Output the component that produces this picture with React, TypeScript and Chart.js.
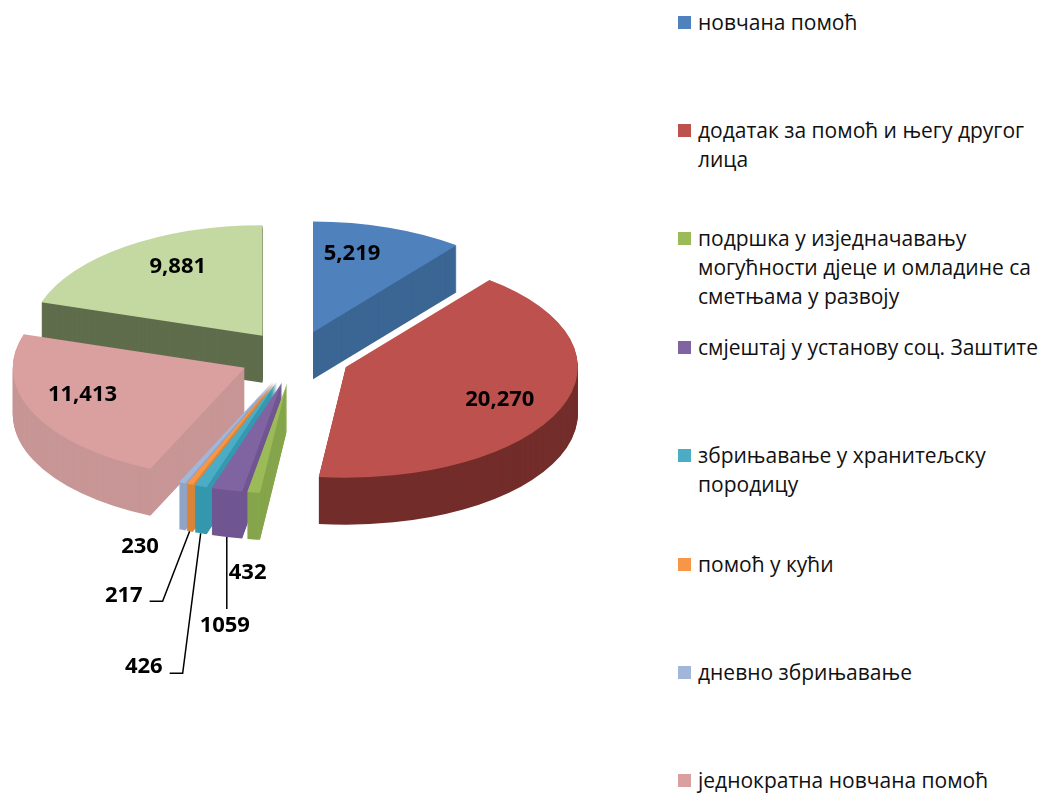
import { useEffect, useRef } from "react";
import { Chart, registerables } from "chart.js";

Chart.register(...registerables);

// ---------- data ----------
const CATEGORIES: string[][] = [
  ["новчана помоћ"],
  ["додатак за помоћ и његу другог", "лица"],
  ["подршка у изједначавању", "могућности дјеце и омладине са", "сметњама у развоју"],
  ["смјештај у установу соц. Заштите"],
  ["збрињавање у хранитељску", "породицу"],
  ["помоћ у кући"],
  ["дневно збрињавање"],
  ["једнократна новчана помоћ"],
  [""],
];
const VALUES = [5219, 20270, 432, 1059, 426, 217, 230, 11413, 9881];
const PLAIN_FORMAT = [false, false, false, true, false, false, false, false, false];
const LEGEND_ITEMS = 8;

// ---------- styles ----------
const COLORS = ["#4F81BD", "#BD514D", "#9BBB59", "#8064A2", "#4BACC6", "#F79646", "#A2B6D9", "#DAA0A0", "#C4D8A1"];
const SIDE_COLORS = ["#3B6694", "#732D2A", "#86A54C", "#705692", "#3598AF", "#DA8439", "#8FA4C8", "#C89696", "#5F6D4C"];
const TILT = 0.477;
const DEPTH = 47;
const EXPLODE = 55;

type LabelSpec =
  | { mode: "in"; r: number; da: number }
  | { mode: "out"; text: [number, number]; align: CanvasTextAlign; line: [number, number][] };

const LABEL_SPECS: LabelSpec[] = [
  { mode: "in", r: 0.73, da: -5.8 },
  { mode: "in", r: 0.726, da: 1.4 },
  { mode: "out", text: [-6, 33], align: "center", line: [] },
  { mode: "out", text: [-2, 89], align: "center", line: [[0, 0], [0, 72]] },
  { mode: "out", text: [-38, 133], align: "right", line: [[0, 0], [-18, 140], [-31, 140]] },
  { mode: "out", text: [-47, 64], align: "right", line: [[0, 0], [-27, 70], [-40, 70]] },
  { mode: "out", text: [-42, 17], align: "center", line: [] },
  { mode: "in", r: 0.74, da: 5.2 },
  { mode: "in", r: 0.72, da: 5.7 },
];

const fmt = (v: number, i: number) => (PLAIN_FORMAT[i] ? String(v) : v.toLocaleString("en-US"));

function paintArc(ctx: CanvasRenderingContext2D, arc: any, color: string, ex: number, ey: number, shift: number) {
  const cy = arc.y;
  ctx.save();
  ctx.translate(0, cy + shift);
  ctx.scale(1, TILT);
  ctx.translate(ex, ey - cy);
  const p = Object.create(arc);
  p.options = { ...arc.options, backgroundColor: color, borderWidth: 0, offset: 0, spacing: 0 };
  p.draw(ctx);
  ctx.restore();
}

const pseudo3d = {
  id: "pseudo3d",
  beforeDatasetsDraw(chart: any) {
    const ctx: CanvasRenderingContext2D = chart.ctx;
    const meta = chart.getDatasetMeta(0);
    const items = meta.data.map((arc: any, i: number) => ({ arc, i, mid: (arc.startAngle + arc.endAngle) / 2 }));
    items.sort((a: any, b: any) => Math.sin(a.mid) - Math.sin(b.mid));
    for (const { arc, i, mid } of items) {
      const ex = EXPLODE * Math.cos(mid);
      const ey = EXPLODE * Math.sin(mid);
      for (let s = DEPTH; s >= 1; s--) paintArc(ctx, arc, SIDE_COLORS[i], ex, ey, s);
      paintArc(ctx, arc, COLORS[i], ex, ey, 0);
    }
    return false;
  },
  afterDraw(chart: any) {
    const ctx: CanvasRenderingContext2D = chart.ctx;
    const meta = chart.getDatasetMeta(0);
    ctx.save();
    ctx.font = 'bold 22px "Open Sans"';
    ctx.fillStyle = "#000";
    ctx.strokeStyle = "#000";
    ctx.lineWidth = 1.5;
    ctx.textBaseline = "middle";
    meta.data.forEach((arc: any, i: number) => {
      const mid = (arc.startAngle + arc.endAngle) / 2;
      const ex = EXPLODE * Math.cos(mid);
      const ey = EXPLODE * Math.sin(mid);
      const spec = LABEL_SPECS[i];
      const text = fmt(VALUES[i], i);
      if (spec.mode === "in") {
        const r = arc.outerRadius * spec.r;
        const a = mid + (spec.da * Math.PI) / 180;
        const x = arc.x + ex + r * Math.cos(a);
        const y = arc.y + TILT * (ey + r * Math.sin(a));
        ctx.textAlign = "center";
        ctx.fillText(text, x, y);
      } else {
        const r = arc.outerRadius;
        const ax = arc.x + ex + r * Math.cos(mid);
        const ay = arc.y + TILT * (ey + r * Math.sin(mid)) + DEPTH;
        if (spec.line.length) {
          ctx.beginPath();
          spec.line.forEach(([dx, dy], k) => {
            if (k === 0) ctx.moveTo(ax + dx, ay + dy);
            else ctx.lineTo(ax + dx, ay + dy);
          });
          ctx.stroke();
        }
        ctx.textAlign = spec.align;
        ctx.fillText(text, ax + spec.text[0], ay + spec.text[1]);
      }
    });
    ctx.restore();
  },
};

export default function App() {
  const ref = useRef<HTMLCanvasElement | null>(null);
  useEffect(() => {
    if (!ref.current) return;
    const chart = new Chart(ref.current, {
      type: "pie",
      data: {
        labels: CATEGORIES.map((l) => l.join(" ")),
        datasets: [
          {
            data: VALUES,
            backgroundColor: COLORS,
            borderWidth: 0,
          },
        ],
      },
      options: {
        responsive: false,
        animation: false,
        events: [],
        layout: { padding: { left: 63, right: 113, top: 125, bottom: 206 } },
        plugins: { legend: { display: false }, tooltip: { enabled: false } },
      },
      plugins: [pseudo3d],
    });
    return () => chart.destroy();
  }, []);

  return (
    <div style={{ position: "fixed", left: 0, top: 0, width: 1043, height: 795, overflow: "hidden", background: "#fff" }}>
      <canvas ref={ref} width={640} height={795} style={{ position: "absolute", left: 0, top: 0 }} />
      <div style={{ position: "absolute", left: 678, top: 0 }}>
        {CATEGORIES.slice(0, LEGEND_ITEMS).map((lines, i) => (
          <div
            key={i}
            style={{ position: "absolute", left: 0, top: 7.5 + i * 108.4, display: "flex", whiteSpace: "nowrap" }}
          >
            <div style={{ width: 13, height: 13, background: COLORS[i], marginTop: 8, marginRight: 7, flex: "none" }} />
            <div style={{ font: '21px "Open Sans"', lineHeight: "29px", color: "#111" }}>
              {lines.map((l, k) => (
                <div key={k}>{l}</div>
              ))}
            </div>
          </div>
        ))}
      </div>
    </div>
  );
}
